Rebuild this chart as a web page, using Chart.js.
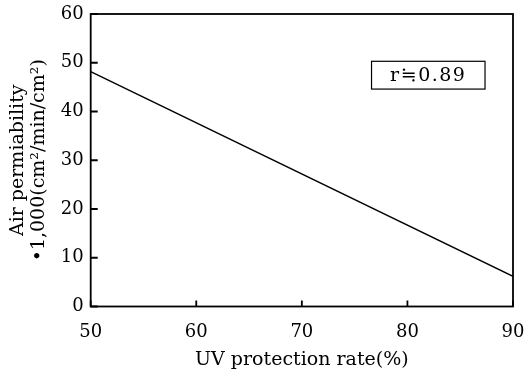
<!DOCTYPE html>
<html>
<head>
<meta charset="utf-8">
<script src="https://cdn.jsdelivr.net/npm/chart.js@4/dist/chart.umd.min.js"></script>
<style>
  html, body { margin: 0; padding: 0; background: #fff; }
  #wrap { width: 532px; height: 369px; }
</style>
</head>
<body>
<div id="wrap"><canvas id="chart"></canvas></div>
<script>
// regression line
const uvRate = [50, 90];
const airPerm = [48.2, 6.2];

const xTicks = [50, 60, 70, 80, 90];
const yTicks = [0, 10, 20, 30, 40, 50, 60];

const xTitle = "UV protection rate(%)";
const yTitle = ["Air permiability", "•1,000(cm²/min/cm²)"];
const rLabel = "r≒0.89";
// label box corners in data units
const rBox = { x1: 76.6, x2: 87.35, y1: 50.3, y2: 44.6 };

const serif = "'DejaVu Serif', 'Liberation Serif', serif";

// frame, inward ticks and the r label
const framePlugin = {
  id: "frame",
  afterDraw(chart) {
    const { ctx, chartArea: a, scales } = chart;
    ctx.save();
    ctx.strokeStyle = "#000";
    ctx.lineWidth = 1.8;
    ctx.strokeRect(a.left, a.top, a.right - a.left, a.bottom - a.top);

    ctx.beginPath();
    xTicks.forEach((v) => {
      const px = scales.x.getPixelForValue(v);
      ctx.moveTo(px, a.bottom);
      ctx.lineTo(px, a.bottom - 6);
    });
    yTicks.forEach((v) => {
      const py = scales.y.getPixelForValue(v);
      ctx.moveTo(a.left, py);
      ctx.lineTo(a.left + 7, py);
    });
    ctx.stroke();

    const bx1 = scales.x.getPixelForValue(rBox.x1);
    const bx2 = scales.x.getPixelForValue(rBox.x2);
    const by1 = scales.y.getPixelForValue(rBox.y1);
    const by2 = scales.y.getPixelForValue(rBox.y2);
    ctx.lineWidth = 1.2;
    ctx.strokeRect(bx1, by1, bx2 - bx1, by2 - by1);
    ctx.fillStyle = "#000";
    ctx.font = "19px 'DejaVu Serif', 'DejaVu Sans', serif";
    ctx.letterSpacing = "1.5px";
    ctx.textAlign = "center";
    ctx.textBaseline = "middle";
    ctx.fillText(rLabel, (bx1 + bx2) / 2, (by1 + by2) / 2 + 1);
    ctx.restore();
  }
};

new Chart(document.getElementById("chart"), {
  type: "scatter",
  data: {
    datasets: [{
      data: uvRate.map((x, i) => ({ x, y: airPerm[i] })),
      showLine: true,
      borderColor: "#000",
      borderWidth: 1.4,
      pointRadius: 0,
      fill: false
    }]
  },
  options: {
    responsive: true,
    maintainAspectRatio: false,
    animation: false,
    layout: { padding: { left: 4, right: 19, top: 14, bottom: 0 } },
    plugins: {
      legend: { display: false },
      tooltip: { enabled: false }
    },
    scales: {
      x: {
        type: "linear",
        min: 50,
        max: 90,
        afterBuildTicks: (s) => { s.ticks = xTicks.map((v) => ({ value: v })); },
        afterFit: (s) => {
          s.height = 62.5;
          s.paddingLeft = 0;
          s.paddingRight = 0;
        },
        grid: { display: false, drawTicks: false },
        border: { display: false },
        ticks: { color: "#000", padding: 15, font: { family: serif, size: 18 } },
        title: {
          display: true,
          text: xTitle,
          color: "#000",
          padding: { top: 0, bottom: -2 },
          font: { family: serif, size: 19 }
        }
      },
      y: {
        type: "linear",
        min: 0,
        max: 60,
        afterBuildTicks: (s) => { s.ticks = yTicks.map((v) => ({ value: v })); },
        afterFit: (s) => {
          s.paddingTop = 0;
          s.paddingBottom = 0;
        },
        grid: { display: false, drawTicks: false },
        border: { display: false },
        ticks: { color: "#000", padding: 7, font: { family: serif, size: 18 } },
        title: {
          display: true,
          text: yTitle,
          color: "#000",
          padding: { top: 4, bottom: 4 },
          font: { family: serif, size: 19, lineHeight: 1.1 }
        }
      }
    }
  },
  plugins: [framePlugin]
});
</script>
</body>
</html>
